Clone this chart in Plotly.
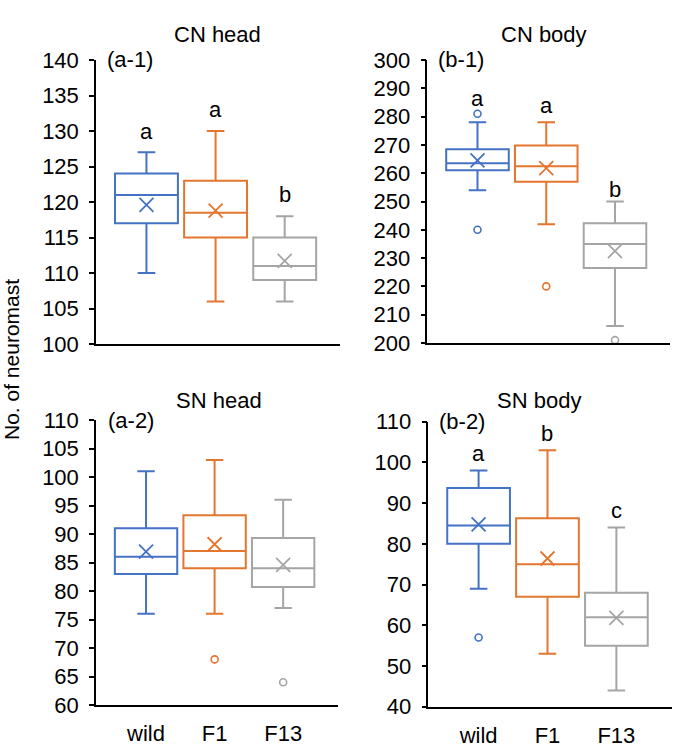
import plotly.graph_objects as go

W, H = 685, 756
groups = ["wild", "F1", "F13"]
colors = ["#4472C4", "#E4762F", "#A5A5A5"]

# CN head (a-1)
cnh_lower = [110, 106, 106]
cnh_q1 = [117, 115, 109]
cnh_med = [121, 118.5, 111]
cnh_q3 = [124, 123, 115]
cnh_upper = [127, 130, 118]
cnh_mean = [119.6, 118.8, 111.7]
cnh_out = [[], [], []]
cnh_letters = ["a", "a", "b"]
cnh_letter_y = [129.9, 133.0, 121.0]

# CN body (b-1)
cnb_lower = [254, 242, 206]
cnb_q1 = [261, 257, 226.5]
cnb_med = [263.5, 262.5, 235]
cnb_q3 = [268.5, 269.8, 242.3]
cnb_upper = [278, 278, 250]
cnb_mean = [264.5, 261.8, 232.5]
cnb_out = [[281, 240], [220], [201]]
cnb_letters = ["a", "a", "b"]
cnb_letter_y = [286.5, 283.8, 254.4]

# SN head (a-2)
snh_lower = [76, 76, 77]
snh_q1 = [83, 84, 80.7]
snh_med = [86, 87, 84]
snh_q3 = [91, 93.3, 89.3]
snh_upper = [101, 103, 96]
snh_mean = [86.9, 88.2, 84.6]
snh_out = [[], [68], [64]]
snh_letters = ["", "", ""]
snh_letter_y = [0, 0, 0]

# SN body (b-2)
snb_lower = [69, 53, 44]
snb_q1 = [80, 67, 55]
snb_med = [84.5, 75, 62]
snb_q3 = [93.7, 86.3, 68]
snb_upper = [98, 103, 84]
snb_mean = [84.8, 76.4, 61.8]
snb_out = [[57], [], []]
snb_letters = ["a", "b", "c"]
snb_letter_y = [102.2, 107.1, 88.1]

FONT = "Liberation Sans, Arial, sans-serif"


def px_x(x):
    return x / W


def px_y(y):
    return 1 - y / H


panels = [
    dict(ax="", stats=(cnh_lower, cnh_q1, cnh_med, cnh_q3, cnh_upper, cnh_mean, cnh_out),
         letters=cnh_letters, ly=cnh_letter_y, dom=(96, 340, 60, 344), yr=[100, 140], dt=5,
         title="CN head", tpos=(217, 35), lab="(a-1)", lpos=(105, 60), xt=False),
    dict(ax="2", stats=(cnb_lower, cnb_q1, cnb_med, cnb_q3, cnb_upper, cnb_mean, cnb_out),
         letters=cnb_letters, ly=cnb_letter_y, dom=(427.3, 670, 60, 343), yr=[200, 300], dt=10,
         title="CN body", tpos=(544, 35), lab="(b-1)", lpos=(436, 60), xt=False),
    dict(ax="3", stats=(snh_lower, snh_q1, snh_med, snh_q3, snh_upper, snh_mean, snh_out),
         letters=snh_letters, ly=snh_letter_y, dom=(96, 338, 420, 705), yr=[60, 110], dt=5,
         title="SN head", tpos=(219, 400), lab="(a-2)", lpos=(106, 420), xt=True),
    dict(ax="4", stats=(snb_lower, snb_q1, snb_med, snb_q3, snb_upper, snb_mean, snb_out),
         letters=snb_letters, ly=snb_letter_y, dom=(428.3, 671.5, 421.7, 706.7), yr=[40, 110], dt=10,
         title="SN body", tpos=(539, 400), lab="(b-2)", lpos=(437, 421.7), xt=True),
]

fig = go.Figure()
annotations = []
layout = {}

for p in panels:
    xa = "x" + p["ax"]
    ya = "y" + p["ax"]
    lower, q1, med, q3, upper, mean, outs = p["stats"]
    for i, g in enumerate(groups):
        c = colors[i]
        fig.add_trace(go.Box(
            x=[i], q1=[q1[i]], median=[med[i]], q3=[q3[i]],
            lowerfence=[lower[i]], upperfence=[upper[i]],
            boxpoints=False, width=0.91, whiskerwidth=0.28,
            fillcolor="white", line=dict(color=c, width=2),
            xaxis=xa, yaxis=ya, showlegend=False, hoverinfo="skip"))
        fig.add_trace(go.Scatter(
            x=[i], y=[mean[i]], mode="markers",
            marker=dict(symbol="x-thin", size=14, line=dict(color=c, width=1.8)),
            xaxis=xa, yaxis=ya, showlegend=False, cliponaxis=False, hoverinfo="skip"))
        if outs[i]:
            fig.add_trace(go.Scatter(
                x=[i] * len(outs[i]), y=outs[i], mode="markers",
                marker=dict(symbol="circle-open", size=7, color=c, line=dict(color=c, width=1.6)),
                xaxis=xa, yaxis=ya, showlegend=False, cliponaxis=False, hoverinfo="skip"))
        if p["letters"][i]:
            annotations.append(dict(
                x=i, y=p["ly"][i], xref=xa, yref=ya, text=p["letters"][i],
                showarrow=False, font=dict(family=FONT, size=22, color="black"),
                xanchor="center", yanchor="middle"))
    x0, x1, y0, y1 = p["dom"]
    key = "xaxis" + p["ax"]
    layout[key] = dict(
        domain=[px_x(x0), px_x(x1)], anchor=ya, range=[-0.73, 2.8], automargin=False,
        showline=True, linecolor="black", linewidth=1.5, showgrid=False, zeroline=False,
        ticks="", tickvals=[0, 1, 2] if p["xt"] else [],
        ticktext=groups if p["xt"] else [],
        tickfont=dict(family=FONT, size=22, color="black"), ticklabelstandoff=8)
    layout["yaxis" + p["ax"]] = dict(
        domain=[px_y(y1), px_y(y0)], anchor=xa, range=p["yr"], dtick=p["dt"],
        tick0=p["yr"][0], automargin=False,
        showline=True, linecolor="black", linewidth=1.5, showgrid=False, zeroline=False,
        ticks="outside", ticklen=5, tickwidth=1.5, tickcolor="black",
        tickfont=dict(family=FONT, size=22, color="black"), ticklabelstandoff=6)
    annotations.append(dict(
        x=px_x(p["tpos"][0]), y=px_y(p["tpos"][1]), xref="paper", yref="paper",
        text=p["title"], showarrow=False, font=dict(family=FONT, size=22, color="black"),
        xanchor="center", yanchor="middle"))
    annotations.append(dict(
        x=px_x(p["lpos"][0]), y=px_y(p["lpos"][1]), xref="paper", yref="paper",
        text=p["lab"], showarrow=False, font=dict(family=FONT, size=22, color="black"),
        xanchor="left", yanchor="middle"))

annotations.append(dict(
    x=px_x(11), y=px_y(360), xref="paper", yref="paper", text="No. of neuromast",
    textangle=-90, showarrow=False, font=dict(family=FONT, size=21, color="black"),
    xanchor="center", yanchor="middle"))

fig.update_layout(
    template="none",
    width=W, height=H, margin=dict(l=0, r=0, t=0, b=0, autoexpand=False),
    paper_bgcolor="white", plot_bgcolor="white", boxmode="overlay",
    annotations=annotations, **layout)

fig.write_html("out.html", config={"displayModeBar": False},
               post_script="document.body.style.margin='0';document.body.style.padding='0';")
